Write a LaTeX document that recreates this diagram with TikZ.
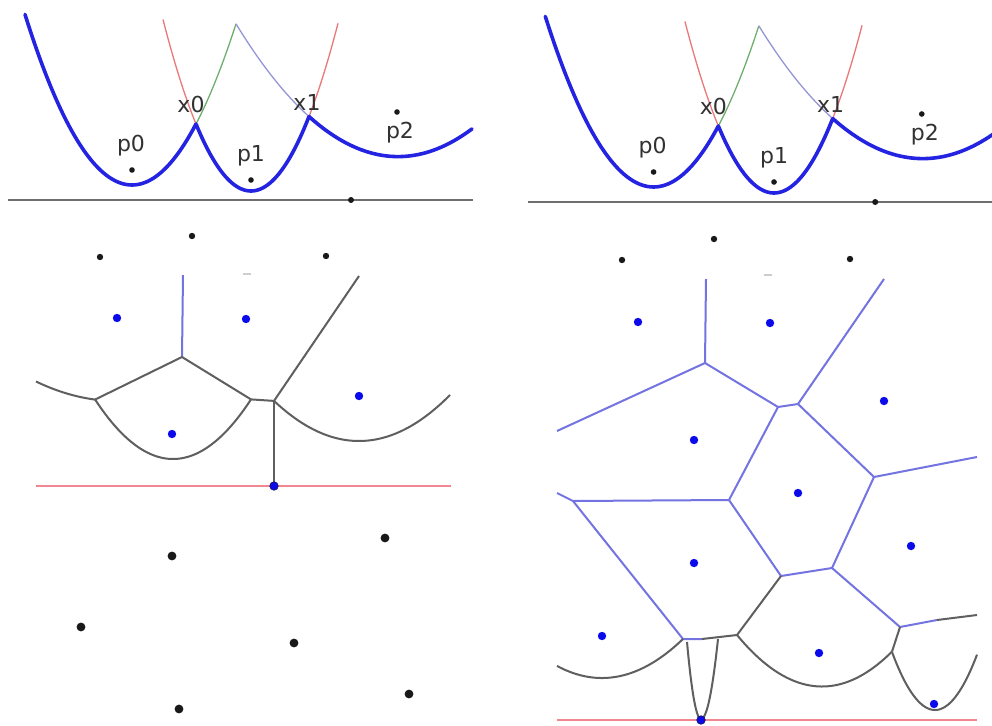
\documentclass[tikz,border=0pt]{standalone}
\usepackage{fontspec}
\setmainfont{DejaVu Sans}
\definecolor{cBeach}{RGB}{35,35,225}
\definecolor{cRedArc}{RGB}{235,120,120}
\definecolor{cGreenArc}{RGB}{110,175,110}
\definecolor{cLilacArc}{RGB}{150,150,215}
\definecolor{cEdge}{RGB}{115,115,225}
\definecolor{cGrayEdge}{RGB}{95,95,95}
\definecolor{cSweep}{RGB}{240,135,145}
\definecolor{cBase}{RGB}{110,110,110}
\definecolor{cSite}{RGB}{10,10,235}
\definecolor{cNavy}{RGB}{30,20,120}
\definecolor{cText}{RGB}{50,50,50}
\definecolor{cDash}{RGB}{205,205,205}
\tikzset{
  beachline/.style={draw=cBeach, line width=3.6pt, line join=round, line cap=round},
  redarc/.style={draw=cRedArc, line width=1.3pt},
  greenarc/.style={draw=cGreenArc, line width=1.3pt},
  lilacarc/.style={draw=cLilacArc, line width=1.3pt},
  baseln/.style={draw=cBase, line width=1.5pt},
  vedge/.style={draw=cEdge, line width=2pt, line join=round},
  gedge/.style={draw=cGrayEdge, line width=2pt, line join=round},
  sweepln/.style={draw=cSweep, line width=2.8pt},
  fdash/.style={draw=cDash, line width=1.4pt},
  lbl/.style={text=cText, font=\fontsize{22}{26}\selectfont, anchor=base, inner sep=0pt},
  smalldot/.style={fill=black!90},
  sitedot/.style={fill=cSite},
}
\newcommand\drawTopPanel[1]{%
  \draw[baseln] (8,200) -- (473,200);
  \fill[smalldot] (351,200) circle[radius=3];
  % thin parabola continuations
  \draw[redarc] plot[domain=163:196,samples=25] (\x,{191-221.5*((\x-251)/100)^2});
  \draw[greenarc] plot[domain=196:236,samples=25] (\x,{185-149*((\x-132)/100)^2});
  \draw[lilacarc] plot[domain=236:309,samples=30] (\x,{156.6-50.59*((\x-398)/100)^2});
  \draw[redarc] plot[domain=309:338,samples=25] (\x,{191-221.5*((\x-251)/100)^2});
  % beach line
  \draw[beachline] plot[domain=25:196,samples=60] (\x,{185-149*((\x-132)/100)^2})
     -- plot[domain=196:309,samples=50] (\x,{191-221.5*((\x-251)/100)^2})
     -- plot[domain=309:472,samples=60] (\x,{156.6-50.59*((\x-398)/100)^2});
  % sites
  \fill[smalldot] (132,170) circle[radius=2.8];
  \fill[smalldot] (251,180) circle[radius=2.8];
  \fill[smalldot] (397,112) circle[radius=2.8];
  \node[lbl] (#1p0) at (131,151) {p0};
  \node[lbl] (#1p1) at (251,161) {p1};
  \node[lbl] (#1p2) at (400,138) {p2};
  \node[lbl] (#1x0) at (191,112) {x0};
  \node[lbl] (#1x1) at (307,110) {x1};
}
\begin{document}
\begin{tikzpicture}[x=1pt,y=-1pt]
\clip (0,0) rectangle (992,725);
\fill[white] (0,0) rectangle (992,725);

% ---------- top panels ----------
\drawTopPanel{l}
\begin{scope}[shift={(520,2)},xscale=1.012]
  \drawTopPanel{r}
\end{scope}

% ---------- middle left ----------
\fill[smalldot] (100,257) circle[radius=3.2];
\fill[smalldot] (192,236) circle[radius=3.2];
\fill[smalldot] (326,256) circle[radius=3.2];
\draw[fdash] (243,274) -- (251,274);

\coordinate (V1) at (182,357);
\coordinate (V1t) at (183,275);
\coordinate (V2) at (95,399.6);
\coordinate (V3) at (251,399.4);
\coordinate (V4) at (274,400.9);
\coordinate (V4t) at (359,276);
\coordinate (V4b) at (274,486);

\draw[sweepln] (36,486) -- (451,486);
\draw[vedge] (V1) -- (V1t);
\draw[gedge] plot[domain=36:95,samples=25] (\x,{401-29.76*((\x-117)/100)^2});
\draw[gedge] plot[domain=95:251,samples=60] (\x,{459-98*((\x-173)/100)^2});
\draw[gedge] plot[domain=274:450,samples=60] (\x,{441-55.56*((\x-359)/100)^2});
\draw[gedge] (V2) -- (V1) -- (V3) -- (V4) -- (V4t);
\draw[gedge] (V4) -- (V4b);

\fill[sitedot] (117,318) circle[radius=4.2];
\fill[sitedot] (246,319) circle[radius=4.2];
\fill[sitedot] (359,396) circle[radius=4.2];
\fill[sitedot] (172,434) circle[radius=4.2];
\filldraw[fill=cSite, draw=cNavy, line width=0.8pt] (274,486) circle[radius=4.2];

% ---------- bottom left ----------
\fill[smalldot] (385,538) circle[radius=4.4];
\fill[smalldot] (172,556) circle[radius=4.4];
\fill[smalldot] (81,627) circle[radius=4.4];
\fill[smalldot] (294,643) circle[radius=4.4];
\fill[smalldot] (409,694) circle[radius=4.4];
\fill[smalldot] (179,709) circle[radius=4.4];

% ---------- right middle / bottom ----------
\fill[smalldot] (622,260) circle[radius=3.2];
\fill[smalldot] (714,239) circle[radius=3.2];
\fill[smalldot] (850,259) circle[radius=3.2];
\draw[fdash] (764,275) -- (772,275);

\coordinate (W1) at (705,363);
\coordinate (W1t) at (706,279);
\coordinate (W1l) at (557,431);
\coordinate (W2) at (778,407);
\coordinate (W3) at (798,404);
\coordinate (W3t) at (884,279);
\coordinate (W4) at (874,477);
\coordinate (W4r) at (977,457);
\coordinate (W5) at (729,500);
\coordinate (W6) at (573,501);
\coordinate (W6l) at (557,493);
\coordinate (W7) at (832,568);
\coordinate (W8) at (781,576);
\coordinate (W9) at (683,639);
\coordinate (W9m) at (702,639);
\coordinate (W12) at (737,635);
\coordinate (W10) at (900,627);
\coordinate (W10m) at (937,620);
\coordinate (W10r) at (977,615);
\coordinate (J) at (892,651.6);

\draw[sweepln] (557,720) -- (977,720);

\draw[vedge] (W1) -- (W1t);
\draw[vedge] (W1l) -- (W1) -- (W2) -- (W3) -- (W3t);
\draw[vedge] (W3) -- (W4) -- (W4r);
\draw[vedge] (W2) -- (W5) -- (W6) -- (W6l);
\draw[vedge] (W5) -- (W8) -- (W7) -- (W4);
\draw[vedge] (W7) -- (W10) -- (W10m);
\draw[vedge] (W6) -- (W9) -- (W9m);
\draw[gedge] (W9m) -- (W12) -- (W8);
\draw[gedge] (W10m) -- (W10r);
\draw[gedge] (W10) -- (J);

\draw[gedge] plot[domain=557:683,samples=50] (\x,{678-59.52*((\x-602)/100)^2});
\draw[gedge] plot[domain=737:892,samples=60] (\x,{686.5-71.3*((\x-822)/100)^2});
\draw[gedge] plot[domain=892:977,samples=40] (\x,{710-313.7*((\x-935)/100)^2});
\draw[gedge] plot[domain=687:701,samples=20] (\x,{719-3930*((\x-701)/100)^2})
   -- plot[domain=701:718,samples=20] (\x,{719-2770*((\x-701)/100)^2});

\fill[sitedot] (638,322) circle[radius=4.2];
\fill[sitedot] (770,323) circle[radius=4.2];
\fill[sitedot] (884,401) circle[radius=4.2];
\fill[sitedot] (694,440) circle[radius=4.2];
\fill[sitedot] (798,493) circle[radius=4.2];
\fill[sitedot] (911,546) circle[radius=4.2];
\fill[sitedot] (694,563) circle[radius=4.2];
\fill[sitedot] (602,636) circle[radius=4.2];
\fill[sitedot] (819,653) circle[radius=4.2];
\fill[sitedot] (934,704) circle[radius=4.2];
\filldraw[fill=cSite, draw=cNavy, line width=0.8pt] (701,720) circle[radius=4.2];
\end{tikzpicture}
\end{document}
